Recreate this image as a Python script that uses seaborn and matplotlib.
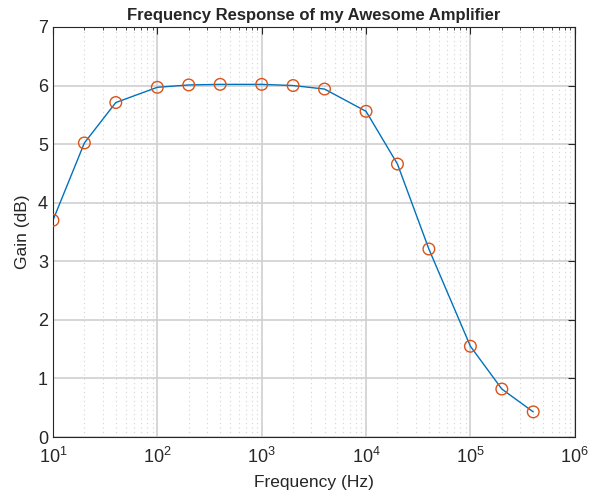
import pandas as pd
import matplotlib.pyplot as plt
import seaborn as sns

# frequencies (Hz) and measured gain (dB)
freq = [10, 20, 40, 100, 200, 400, 1000, 2000, 4000, 10000, 20000, 40000, 100000, 200000, 400000]
gain = [3.70, 5.02, 5.71, 5.97, 6.01, 6.02, 6.02, 6.00, 5.94, 5.56, 4.66, 3.21, 1.55, 0.82, 0.43]

df = pd.DataFrame({'Frequency': freq, 'Gain': gain})

sns.set_theme(style="white")
plt.rcParams['font.family'] = ['Liberation Sans', 'DejaVu Sans']
plt.rcParams['mathtext.fontset'] = 'custom'
plt.rcParams['mathtext.rm'] = 'Liberation Sans'
plt.rcParams['mathtext.it'] = 'Liberation Sans:italic'

fig = plt.figure(figsize=(5.95, 4.9), dpi=100)
ax = fig.add_axes([0.089, 0.108, 0.877, 0.837])

sns.lineplot(data=df, x='Frequency', y='Gain', ax=ax, color='#0072BD', linewidth=1.0)
sns.scatterplot(data=df, x='Frequency', y='Gain', ax=ax, marker='o', s=70,
                facecolor='none', edgecolor='#D95319', linewidth=1.0, zorder=3)

ax.set_xscale('log')
ax.set_xlim(10, 1e6)
ax.set_ylim(0, 7)

# grid like matlab: solid major, dotted minor (x only)
ax.grid(True, which='major', color='#d0d0d0', linewidth=1.2)
ax.grid(True, which='minor', axis='x', color='#d4d4d4', linestyle=(0, (1, 3)), linewidth=0.8)

ax.tick_params(which='both', direction='in', top=True, right=True, labelsize=13, colors='#262626')
ax.tick_params(which='major', length=5, width=0.8)
ax.tick_params(which='minor', length=2.5, width=0.6)
ax.tick_params(axis='x', which='major', pad=7)
ax.tick_params(axis='y', which='minor', length=0)
for sp in ax.spines.values():
    sp.set_color('#262626')
    sp.set_linewidth(0.8)

ax.set_xlabel('Frequency (Hz)', fontsize=12.5, color='#262626', labelpad=6)
ax.set_ylabel('Gain (dB)', fontsize=12.5, color='#262626', labelpad=6)
ax.set_title('Frequency Response of my Awesome Amplifier', fontsize=12, fontweight='bold', pad=5)

plt.savefig('out.png', dpi=100)
